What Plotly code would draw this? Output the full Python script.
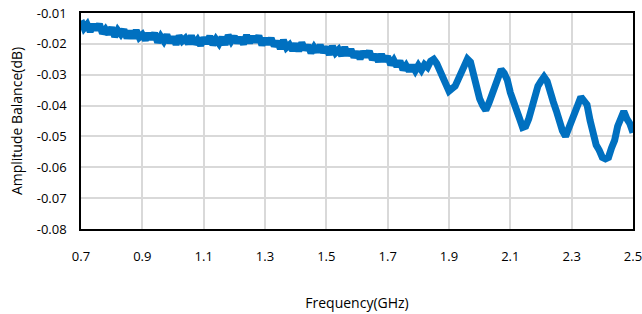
import plotly.graph_objects as go

freq_ghz = [
    0.70, 0.71, 0.72, 0.73, 0.74, 0.75, 0.76, 0.77, 0.78, 0.79,
    0.80, 0.81, 0.82, 0.83, 0.84, 0.85, 0.86, 0.87, 0.88, 0.89,
    0.90, 0.91, 0.92, 0.93, 0.94, 0.95, 0.96, 0.97, 0.98, 0.99,
    1.00, 1.01, 1.02, 1.03, 1.04, 1.05, 1.06, 1.07, 1.08, 1.09,
    1.10, 1.11, 1.12, 1.13, 1.14, 1.15, 1.16, 1.17, 1.18, 1.19,
    1.20, 1.21, 1.22, 1.23, 1.24, 1.25, 1.26, 1.27, 1.28, 1.29,
    1.30, 1.31, 1.32, 1.33, 1.34, 1.35, 1.36, 1.37, 1.38, 1.39,
    1.40, 1.41, 1.42, 1.43, 1.44, 1.45, 1.46, 1.47, 1.48, 1.49,
    1.50, 1.51, 1.52, 1.53, 1.54, 1.55, 1.56, 1.57, 1.58, 1.59,
    1.60, 1.61, 1.62, 1.63, 1.64, 1.65, 1.66, 1.67, 1.68, 1.69,
    1.70, 1.71, 1.72, 1.73, 1.74, 1.75, 1.76, 1.77, 1.78, 1.79,
    1.80, 1.81, 1.82, 1.83, 1.84, 1.85, 1.86, 1.87, 1.88, 1.89,
    1.90, 1.91, 1.92, 1.93, 1.94, 1.95, 1.96, 1.97, 1.98, 1.99,
    2.00, 2.01, 2.02, 2.03, 2.04, 2.05, 2.06, 2.07, 2.08, 2.09,
    2.10, 2.11, 2.12, 2.13, 2.14, 2.15, 2.16, 2.17, 2.18, 2.19,
    2.20, 2.21, 2.22, 2.23, 2.24, 2.25, 2.26, 2.27, 2.28, 2.29,
    2.30, 2.31, 2.32, 2.33, 2.34, 2.35, 2.36, 2.37, 2.38, 2.39,
    2.40, 2.41, 2.42, 2.43, 2.44, 2.45, 2.46, 2.47, 2.48, 2.49,
    2.50,
]

amp_balance_db = [
    -0.0124, -0.0149, -0.0137, -0.0160, -0.0137, -0.0154, -0.0136, -0.0166, -0.0153, -0.0168,
    -0.0147, -0.0177, -0.0156, -0.0169, -0.0154, -0.0181, -0.0159, -0.0181, -0.0156, -0.0179,
    -0.0170, -0.0188, -0.0166, -0.0185, -0.0165, -0.0195, -0.0176, -0.0191, -0.0171, -0.0196,
    -0.0177, -0.0202, -0.0174, -0.0191, -0.0182, -0.0200, -0.0174, -0.0200, -0.0187, -0.0205,
    -0.0180, -0.0198, -0.0175, -0.0203, -0.0185, -0.0199, -0.0179, -0.0203, -0.0172, -0.0191,
    -0.0176, -0.0196, -0.0180, -0.0201, -0.0172, -0.0196, -0.0176, -0.0193, -0.0174, -0.0204,
    -0.0183, -0.0201, -0.0182, -0.0207, -0.0192, -0.0215, -0.0188, -0.0212, -0.0203, -0.0221,
    -0.0200, -0.0223, -0.0196, -0.0219, -0.0205, -0.0229, -0.0211, -0.0226, -0.0204, -0.0228,
    -0.0210, -0.0235, -0.0208, -0.0229, -0.0219, -0.0238, -0.0211, -0.0237, -0.0218, -0.0243,
    -0.0226, -0.0249, -0.0225, -0.0242, -0.0224, -0.0251, -0.0235, -0.0257, -0.0234, -0.0256,
    -0.0241, -0.0268, -0.0253, -0.0273, -0.0255, -0.0284, -0.0270, -0.0288, -0.0270, -0.0287,
    -0.0270, -0.0285, -0.0267, -0.0276, -0.0256, -0.0250, -0.0264, -0.0287, -0.0318, -0.0333,
    -0.0353, -0.0345, -0.0337, -0.0315, -0.0293, -0.0259, -0.0249, -0.0259, -0.0303, -0.0332,
    -0.0378, -0.0400, -0.0415, -0.0392, -0.0363, -0.0327, -0.0302, -0.0283, -0.0295, -0.0317,
    -0.0358, -0.0382, -0.0418, -0.0442, -0.0471, -0.0467, -0.0443, -0.0402, -0.0373, -0.0337,
    -0.0321, -0.0307, -0.0321, -0.0347, -0.0388, -0.0417, -0.0458, -0.0482, -0.0500, -0.0477,
    -0.0458, -0.0422, -0.0398, -0.0372, -0.0381, -0.0397, -0.0448, -0.0492, -0.0528, -0.0545,
    -0.0568, -0.0573, -0.0568, -0.0537, -0.0513, -0.0467, -0.0438, -0.0419, -0.0443, -0.0459,
    -0.0488,
]

x_ticks = [0.7, 0.9, 1.1, 1.3, 1.5, 1.7, 1.9, 2.1, 2.3, 2.5]
x_tick_labels = ["0.7", "0.9", "1.1", "1.3", "1.5", "1.7", "1.9", "2.1", "2.3", "2.5"]
y_ticks = [-0.08, -0.07, -0.06, -0.05, -0.04, -0.03, -0.02, -0.01]
y_tick_labels = ["-0.08", "-0.07", "-0.06", "-0.05", "-0.04", "-0.03", "-0.02", "-0.01"]

LINE_COLOR = "#0070C0"
GRID_COLOR = "#d9d9d9"
FONT = "Open Sans"

fig = go.Figure()
fig.add_trace(go.Scatter(
    x=freq_ghz, y=amp_balance_db, mode="lines",
    line=dict(color=LINE_COLOR, width=7),
    showlegend=False, hoverinfo="skip",
))

fig.update_layout(
    width=642, height=314,
    margin=dict(l=81, r=9, t=13, b=85),
    paper_bgcolor="white", plot_bgcolor="white",
    font=dict(family=FONT, size=13, color="black"),
)
fig.update_xaxes(
    range=[0.7, 2.5], tickvals=x_ticks, ticktext=x_tick_labels,
    showgrid=True, gridcolor=GRID_COLOR, gridwidth=2,
    showline=True, linecolor="black", linewidth=1.5, mirror=True,
    ticks="", ticklabelstandoff=15, zeroline=False,
    ticklabeloverflow="allow", automargin=False,
    title=dict(text="Frequency(GHz)", font=dict(family=FONT, size=14), standoff=34),
)
fig.update_yaxes(
    range=[-0.08, -0.01], tickvals=y_ticks, ticktext=y_tick_labels,
    showgrid=True, gridcolor=GRID_COLOR, gridwidth=2,
    showline=True, linecolor="black", linewidth=1.5, mirror=True,
    ticks="", ticklabelstandoff=10, zeroline=False,
    ticklabeloverflow="allow", automargin=False,
    title=dict(text="Amplitude Balance(dB)", font=dict(family=FONT, size=14), standoff=11),
)

# remove the default page margin so the 642x314 figure fills the window exactly
fig.write_html(
    "out.html",
    config={"displayModeBar": False},
    post_script="document.body.style.margin='0';",
)
